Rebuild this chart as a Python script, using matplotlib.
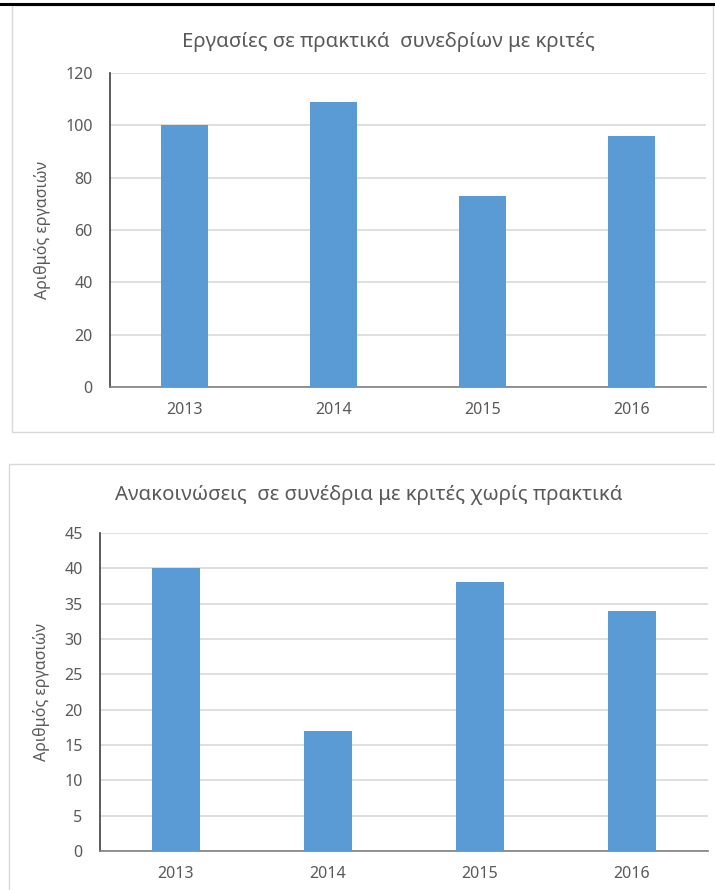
import matplotlib.pyplot as plt
from matplotlib.patches import Rectangle
from matplotlib.lines import Line2D

## data
years = ["2013", "2014", "2015", "2016"]
papers_proc = [100, 109, 73, 96]      # Εργασίες σε πρακτικά
talks_noproc = [40, 17, 38, 34]       # Ανακοινώσεις χωρίς πρακτικά

title_top = "Εργασίες σε πρακτικά  συνεδρίων με κριτές"
title_bot = "Ανακοινώσεις  σε συνέδρια με κριτές χωρίς πρακτικά"
ylabel = "Αριθμός εργασιών"

plt.rcParams['font.family'] = ['Noto Sans', 'DejaVu Sans']
W, H = 715, 890
bar_color = "#5B9BD5"
txt_color = "#595959"
grid_color = "#D9D9D9"

fig = plt.figure(figsize=(W / 100, H / 100), dpi=100)

def px(x0, y0, x1, y1):
    # pixel box (top-left origin) -> figure fraction rect
    return [x0 / W, 1 - y1 / H, (x1 - x0) / W, (y1 - y0) / H]

## panel frames and the black line on top
fig.add_artist(Rectangle((12 / W, 1 - 432 / H), 701 / W, 427 / H, transform=fig.transFigure,
                         fill=False, edgecolor=grid_color, linewidth=1))
fig.add_artist(Rectangle((9 / W, 1 - 900 / H), 720 / W, 436 / H, transform=fig.transFigure,
                         fill=False, edgecolor=grid_color, linewidth=1))
fig.add_artist(Line2D([0, 1], [1 - 3.5 / H, 1 - 3.5 / H], transform=fig.transFigure,
                      color="black", linewidth=2.2))

def draw(ax, values, ymax, step, title, title_y, title_x):
    ax.bar(range(len(years)), values, width=0.313, color=bar_color, zorder=3)
    ax.set_xlim(-0.5, len(years) - 0.5)
    ax.set_ylim(0, ymax)
    ax.set_yticks(range(0, ymax + 1, step))
    ax.set_xticks(range(len(years)))
    ax.set_xticklabels(years)
    ax.yaxis.grid(True, color=grid_color, linewidth=1.2, zorder=0)
    ax.set_axisbelow(True)
    for s in ["top", "right"]:
        ax.spines[s].set_visible(False)
    ax.spines["left"].set_color("#404040")
    ax.spines["bottom"].set_color("#7F7F7F")
    ax.spines["left"].set_linewidth(1.2)
    ax.spines["bottom"].set_linewidth(1.2)
    ax.tick_params(length=0, labelsize=11.5, labelcolor=txt_color)
    ax.tick_params(axis="y", pad=12.5)
    ax.tick_params(axis="x", pad=11)
    ax.set_ylabel(ylabel, fontsize=11.5, color=txt_color, labelpad=10)
    fig.text(title_x / W, 1 - title_y / H, title, ha="center", va="center",
             fontsize=14.7, color=txt_color)

ax1 = fig.add_axes(px(110, 73, 706, 387))
draw(ax1, papers_proc, 120, 20, title_top, 42, 388)

ax2 = fig.add_axes(px(100, 533, 708, 851))
draw(ax2, talks_noproc, 45, 5, title_bot, 495, 369)

fig.savefig("out.png", dpi=100)
